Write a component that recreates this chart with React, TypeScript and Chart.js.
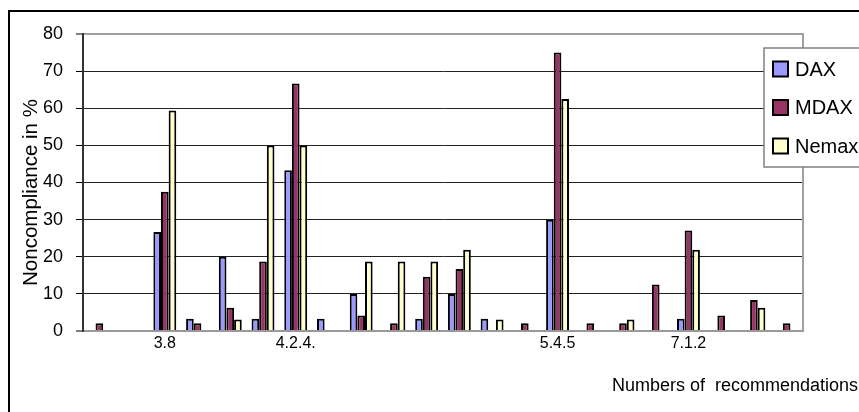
import React, { useEffect, useRef } from "react";
import { Chart, registerables } from "chart.js";

Chart.register(...registerables);

// ---- data ----
const categories = ["", "", "3.8", "", "", "", "4.2.4.", "", "", "", "", "", "", "", "5.4.5", "", "", "", "7.1.2", "", "", ""];
const daxValues = [0, 0, 26.67, 3.33, 20, 3.33, 43.33, 3.33, 10, 0, 3.33, 10, 3.33, 0, 30, 0, 0, 0, 3.33, 0, 0, 0];
const mdaxValues = [2.08, 0, 37.5, 2.08, 6.25, 18.75, 66.67, 0, 4.17, 2.08, 14.58, 16.67, 0, 2.08, 75, 2.08, 2.08, 12.5, 27.08, 4.17, 8.33, 2.08];
const nemaxValues = [0, 0, 59.38, 0, 3.13, 50, 50, 0, 18.75, 18.75, 18.75, 21.88, 3.13, 0, 62.5, 0, 3.13, 0, 21.88, 0, 6.25, 0];
const seriesNames = ["DAX", "MDAX", "Nemax"];
const seriesColors = ["#9999FF", "#993366", "#FFFFCC"];
const yTitle = "Noncompliance in %";
const xTitle = "Numbers of  recommendations";
const yMin = 0;
const yMax = 80;
const yStep = 10;

const FONT = "'Liberation Sans', Arial, Helvetica, sans-serif";

const decorPlugin = {
  id: "decor",
  beforeDatasetsDraw(chart: any) {
    const { ctx, chartArea } = chart;
    ctx.save();
    ctx.strokeStyle = "#a0a0a0";
    ctx.lineWidth = 2;
    ctx.beginPath();
    ctx.moveTo(chartArea.right, chartArea.top - 1);
    ctx.lineTo(chartArea.right, chartArea.bottom);
    ctx.stroke();
    ctx.restore();
  },
  afterDraw(chart: any) {
    const { ctx, chartArea } = chart;
    ctx.save();
    // outer frame (continues beyond the visible window)
    ctx.strokeStyle = "#000";
    ctx.lineWidth = 2;
    ctx.strokeRect(9, 11, 2000, 2000);

    // y axis title
    ctx.fillStyle = "#000";
    ctx.font = `20.5px ${FONT}`;
    ctx.save();
    ctx.translate(31, (chartArea.top + chartArea.bottom) / 2 + 10);
    ctx.rotate(-Math.PI / 2);
    ctx.textAlign = "center";
    ctx.textBaseline = "middle";
    ctx.fillText(yTitle, 0, 0);
    ctx.restore();

    // x axis title
    ctx.font = `18px ${FONT}`;
    ctx.textAlign = "center";
    ctx.textBaseline = "alphabetic";
    ctx.fillText(xTitle, 735, 391);

    // legend
    const lx = 764, ly = 48, lw = 130, lh = 119;
    ctx.fillStyle = "#fff";
    ctx.fillRect(lx, ly, lw, lh);
    ctx.strokeStyle = "#808080";
    ctx.lineWidth = 1.5;
    ctx.strokeRect(lx, ly, lw, lh);
    ctx.font = `20px ${FONT}`;
    ctx.textAlign = "left";
    ctx.textBaseline = "middle";
    chart.data.datasets.forEach((ds: any, i: number) => {
      const cy = 69 + i * 38.5;
      ctx.fillStyle = ds.backgroundColor;
      ctx.fillRect(773, cy - 7.5, 15, 15);
      ctx.strokeStyle = "#000";
      ctx.lineWidth = 2;
      ctx.strokeRect(773, cy - 7.5, 15, 15);
      ctx.fillStyle = "#000";
      ctx.fillText(ds.label, 795, cy + 1);
    });
    ctx.restore();
  },
};

export default function App() {
  const ref = useRef<HTMLCanvasElement | null>(null);

  useEffect(() => {
    if (!ref.current) return;
    const datasets = [daxValues, mdaxValues, nemaxValues].map((vals, i) => ({
      label: seriesNames[i],
      data: vals,
      backgroundColor: seriesColors[i],
      borderColor: "#000",
      borderWidth: 2,
      borderSkipped: "bottom" as const,
      categoryPercentage: 0.7,
      barPercentage: 1.0,
    }));
    const chart = new Chart(ref.current, {
      type: "bar",
      data: { labels: categories, datasets },
      options: {
        responsive: false,
        animation: false,
        devicePixelRatio: 1,
        layout: { padding: { left: 0, top: 34, right: 97, bottom: 0 } },
        plugins: {
          legend: { display: false },
          tooltip: { enabled: false },
          title: { display: false },
        },
        scales: {
          x: {
            grid: { display: false, drawTicks: false },
            border: { display: true, color: "#999999", width: 2 },
            ticks: {
              autoSkip: false,
              maxRotation: 0,
              minRotation: 0,
              padding: 3,
              color: "#000",
              font: { family: FONT, size: 16 },
            },
            afterFit: (s: any) => {
              s.height = 81;
            },
          },
          y: {
            min: yMin,
            max: yMax,
            ticks: {
              stepSize: yStep,
              padding: 13,
              color: "#000",
              font: { family: FONT, size: 18 },
            },
            grid: {
              color: (c: any) => (c.tick && c.tick.value === yMax ? "#a0a0a0" : c.tick && c.tick.value === yMin ? "#999999" : "#222"),
              lineWidth: (c: any) => (c.tick && (c.tick.value === yMax || c.tick.value === yMin) ? 2 : 1),
              tickColor: "#000",
              tickLength: 7,
              tickWidth: 1,
            },
            border: { display: true, color: "#333", width: 2 },
            afterFit: (s: any) => {
              s.width = 83;
            },
          },
        },
      },
      plugins: [decorPlugin],
    });
    return () => chart.destroy();
  }, []);

  return (
    <div
      style={{
        position: "fixed",
        left: 0,
        top: 0,
        width: 859,
        height: 412,
        overflow: "hidden",
        background: "#fff",
      }}
    >
      <canvas ref={ref} width={900} height={412} style={{ display: "block", width: 900, height: 412 }} />
    </div>
  );
}
